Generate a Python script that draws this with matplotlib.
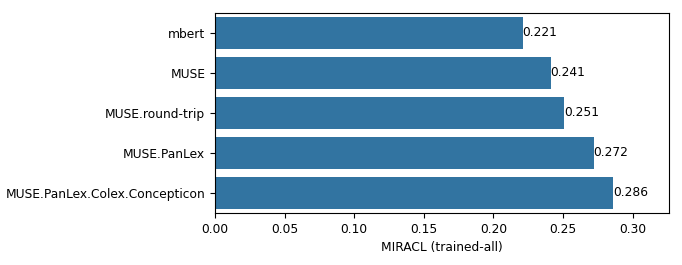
import matplotlib
matplotlib.use("Agg")
import matplotlib.pyplot as plt

models = ["mbert", "MUSE", "MUSE.round-trip", "MUSE.PanLex", "MUSE.PanLex.Colex.Concepticon"]
scores = [0.221, 0.241, 0.251, 0.272, 0.286]
xlabel = "MIRACL (trained-all)"
xticks = [0.0, 0.05, 0.10, 0.15, 0.20, 0.25, 0.30]

plt.rcParams["font.size"] = 8.8
fig = plt.figure(figsize=(6.82, 2.65), dpi=100)
ax = fig.add_axes([215/682, 1-213/265, (669-215)/682, (213-12.5)/265])
ypos = list(range(len(models)))
bars = ax.barh(ypos, scores, height=0.8, color="#3274a1")
ax.set_yticks(ypos)
ax.set_yticklabels(models)
ax.set_ylim(len(models)-0.5, -0.5)
ax.set_xlim(0, 0.3261)
ax.set_xticks(xticks)
ax.set_xticklabels([f"{v:.2f}" for v in xticks])
ax.set_xlabel(xlabel)
ax.bar_label(bars, labels=[f"{v:.3f}" for v in scores], padding=0)
fig.savefig("out.png", dpi=100)
